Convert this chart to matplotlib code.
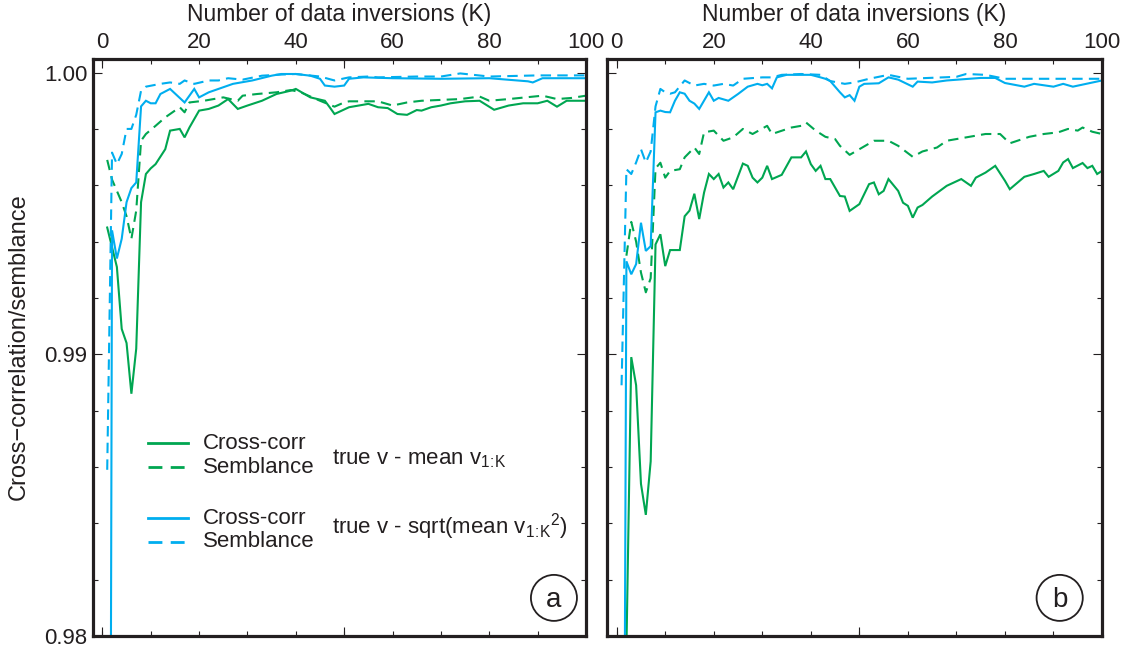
import matplotlib
matplotlib.use("Agg")
import matplotlib.pyplot as plt
from matplotlib.ticker import FixedLocator, FixedFormatter
from matplotlib.patches import Ellipse

plt.rcParams['font.family'] = ['Liberation Sans', 'DejaVu Sans']
plt.rcParams['lines.scale_dashes'] = False
plt.rcParams['mathtext.fontset'] = 'custom'
plt.rcParams['mathtext.rm'] = 'Liberation Sans'

INK = '#231F20'
GREEN = '#00A651'
BLUE = '#00AEEF'

# ---------------- panel (a) ----------------
a_cc_mean_k = [1, 2, 3, 4, 5, 6, 7, 8, 9, 10, 11, 13, 14, 16, 17, 18, 19, 20, 22, 24,
               26, 28, 30, 33, 36, 39, 40, 43, 46, 47, 48, 51, 55, 57, 59, 61, 63, 65, 66, 68,
               70, 72, 75, 78, 81, 84, 87, 90, 92, 94, 96, 98, 100]
a_cc_mean_v = [0.9945, 0.9938, 0.9931, 0.9909, 0.9904, 0.9886, 0.9902, 0.9954, 0.9964, 0.9966,
               0.99675, 0.99728, 0.99794, 0.998, 0.9977, 0.99805, 0.99835, 0.99865, 0.99871, 0.99883,
               0.99906, 0.99871, 0.99883, 0.999, 0.99924, 0.99936, 0.99942, 0.99912, 0.999, 0.99877,
               0.99853, 0.99877, 0.99889, 0.99877, 0.99874, 0.99853, 0.9985, 0.99867, 0.99865, 0.99877,
               0.99883, 0.99891, 0.99898, 0.999, 0.99868, 0.99883, 0.99891, 0.99891, 0.999, 0.99879,
               0.999, 0.999, 0.999]

a_sem_mean_k = [1, 2, 3, 4, 5, 6, 7, 8, 9, 11, 13, 16, 17, 18, 21, 25, 28, 29, 32, 36,
                39, 41, 45, 48, 50, 51, 57, 60, 63, 66, 74, 78, 80, 84, 91, 94, 97, 100]
a_sem_mean_v = [0.9969, 0.9962, 0.9958, 0.9954, 0.9949, 0.9941, 0.9951, 0.99758, 0.99782, 0.99811,
                0.99841, 0.99877, 0.99859, 0.99894, 0.999, 0.99912, 0.999, 0.99918, 0.99924, 0.9993,
                0.99938, 0.9993, 0.999, 0.99879, 0.99894, 0.99898, 0.99898, 0.99883, 0.99894, 0.999,
                0.99906, 0.99915, 0.999, 0.99906, 0.99918, 0.99906, 0.9991, 0.99918]

a_cc_rms_k = [1, 2, 3, 4, 5, 6, 7, 8, 9, 10, 11, 12, 14, 17, 19, 20, 22, 25, 27, 31,
              35, 37, 40, 43, 45, 46, 48, 50, 51, 54, 60, 70, 80, 88, 89, 91, 100]
a_cc_rms_v = [0.93, 0.9944, 0.9934, 0.9941, 0.9954, 0.9959, 0.9961, 0.9988, 0.9990, 0.99891,
              0.99891, 0.99924, 0.99942, 0.99894, 0.99942, 0.99912, 0.9993, 0.99948, 0.9996, 0.99972,
              0.99989, 0.99995, 0.99995, 0.99989, 0.99978, 0.99954, 0.9995, 0.99954, 0.99978, 0.99983,
              0.9998, 0.99978, 0.9998, 0.99969, 0.99965, 0.9998, 0.9998]

a_sem_rms_k = [1, 2, 3, 4, 5, 6, 7, 8, 9, 12, 14, 16, 17, 19, 22, 24, 26, 29, 33, 37,
               40, 45, 48, 51, 55, 57, 65, 70, 74, 80, 90, 100]
a_sem_rms_v = [0.9859, 0.99716, 0.99675, 0.99711, 0.998, 0.998, 0.9985, 0.99936, 0.9995, 0.9996,
               0.99965, 0.9996, 0.99972, 0.9996, 0.99972, 0.99972, 0.9998, 0.99975, 0.99989, 0.99993,
               0.99995, 0.99986, 0.99972, 0.99983, 0.99986, 0.99983, 0.99986, 0.99986, 0.99997, 0.99986,
               0.9999, 0.9999]

# ---------------- panel (b) ----------------
b_cc_mean_k = [1, 2, 3, 4, 5, 6, 7, 8, 9, 10, 11, 13, 14, 15, 16, 17, 18, 19, 20, 21,
               22, 23, 24, 26, 27, 28, 29, 30, 31, 32, 34, 36, 38, 39, 40, 41, 42, 43, 44, 45,
               46, 47, 48, 50, 52, 53, 54, 55, 56, 58, 59, 60, 61, 62, 63, 65, 68, 71, 73, 74,
               76, 78, 80, 81, 84, 86, 88, 89, 91, 92, 93, 94, 96, 97, 98, 99, 100]
b_cc_mean_v = [0.97, 0.9795, 0.9899, 0.9889, 0.9854, 0.9843, 0.9862, 0.9939, 0.99426, 0.99313,
               0.9937, 0.9937, 0.9949, 0.9951, 0.9957, 0.9948, 0.99574, 0.9964, 0.99622, 0.9964,
               0.99592, 0.9961, 0.99586, 0.99677, 0.99669, 0.99627, 0.9961, 0.99627, 0.99669, 0.99622,
               0.99637, 0.99699, 0.99699, 0.9972, 0.99675, 0.99651, 0.99669, 0.99622, 0.99622, 0.99592,
               0.99562, 0.9956, 0.99509, 0.99533, 0.99604, 0.9961, 0.99568, 0.9958, 0.99622, 0.9958,
               0.99538, 0.99527, 0.99485, 0.99521, 0.9953, 0.9956, 0.99598, 0.99622, 0.99598, 0.99627,
               0.99645, 0.99669, 0.99616, 0.99586, 0.9963, 0.9964, 0.99651, 0.9963, 0.99651, 0.99681,
               0.99693, 0.99661, 0.99679, 0.99661, 0.99669, 0.9964, 0.99651]

b_sem_mean_k = [2, 3, 4, 5, 6, 7, 8, 9, 10, 11, 13, 14, 16, 17, 18, 20, 22, 24, 26, 28,
                31, 32, 36, 38, 39, 41, 43, 45, 46, 48, 50, 53, 56, 58, 61, 63, 66, 68, 72, 74,
                76, 79, 81, 85, 88, 91, 93, 95, 96, 98, 100]
b_sem_mean_v = [0.9935, 0.9947, 0.9940, 0.9929, 0.9922, 0.9927, 0.9966, 0.9968, 0.99627, 0.99651,
                0.99657, 0.99699, 0.99734, 0.99711, 0.99788, 0.99794, 0.99758, 0.9977, 0.998, 0.99782,
                0.99811, 0.99782, 0.99805, 0.99811, 0.99823, 0.99794, 0.99772, 0.99764, 0.9974, 0.99708,
                0.99728, 0.99758, 0.99758, 0.9974, 0.99701, 0.9972, 0.99734, 0.99758, 0.9977, 0.99776,
                0.99782, 0.99782, 0.99749, 0.99772, 0.99782, 0.99788, 0.998, 0.99794, 0.99805, 0.9979,
                0.99782]

b_cc_rms_k = [1, 2, 3, 4, 5, 6, 7, 8, 9, 10, 11, 12, 13, 14, 15, 16, 17, 19, 20, 21,
              23, 25, 27, 29, 30, 31, 32, 33, 35, 40, 42, 43, 44, 46, 47, 48, 49, 50, 51, 54,
              56, 58, 61, 62, 65, 68, 75, 78, 80, 84, 86, 90, 92, 94, 100]
b_cc_rms_v = [0.95, 0.9933, 0.99284, 0.9932, 0.99467, 0.99367, 0.99384, 0.99859, 0.99865, 0.9986,
              0.99859, 0.999, 0.9993, 0.99925, 0.999, 0.9989, 0.99871, 0.9993, 0.999, 0.9991,
              0.999, 0.99924, 0.9995, 0.9996, 0.99955, 0.9996, 0.99944, 0.99983, 0.99992, 0.99992,
              0.99983, 0.99978, 0.9997, 0.9993, 0.99912, 0.9992, 0.999, 0.9995, 0.9996, 0.99962,
              0.99983, 0.99975, 0.9995, 0.99968, 0.99965, 0.99972, 0.99981, 0.99981, 0.99963, 0.9995,
              0.9996, 0.9995, 0.9996, 0.9995, 0.99972]

b_sem_rms_k = [1, 2, 3, 4, 5, 6, 7, 8, 9, 10, 11, 12, 14, 16, 18, 20, 22, 24, 26, 30,
               32, 34, 38, 42, 44, 47, 49, 52, 56, 60, 70, 72, 76, 80, 90, 100]
b_sem_rms_v = [0.9889, 0.99657, 0.9964, 0.99681, 0.99728, 0.99681, 0.9972, 0.9988, 0.99942, 0.9993,
               0.99925, 0.9993, 0.99972, 0.99954, 0.9996, 0.99954, 0.9996, 0.99954, 0.99978, 0.99983,
               0.99983, 0.99992, 0.99995, 0.99992, 0.9997, 0.9996, 0.99965, 0.99978, 0.99992, 0.99978,
               0.99985, 0.99995, 0.99992, 0.99978, 0.99978, 0.99978]

x_ticks = list(range(0, 101, 10))
x_tick_labels = [str(t) if t % 20 == 0 else '' for t in x_ticks]
x_long_ticks = [0, 50, 100]
y_major = [0.98, 0.99, 1.00]
y_major_labels = ['0.98', '0.99', '1.00']
y_minor = [0.98 + 0.002 * i for i in range(11)]

xlabel = 'Number of data inversions (K)'
ylabel = 'Cross\u2212correlation/semblance'

DASH = (7.5, 4.5)
LW = 1.5

fig = plt.figure(figsize=(11.32, 6.51), dpi=100)
W, H = 1132.0, 651.0
ax_a = fig.add_axes([92.7 / W, 1 - 636 / H, (586 - 92.7) / W, (636 - 58.5) / H])
ax_b = fig.add_axes([607 / W, 1 - 636 / H, (1102 - 607) / W, (636 - 58.5) / H])


def draw_series(ax, cc_mean, sem_mean, cc_rms, sem_rms):
    ax.plot(*cc_mean, color=GREEN, lw=LW, solid_joinstyle='miter')
    ax.plot(*sem_mean, color=GREEN, lw=LW, dashes=DASH)
    ax.plot(*cc_rms, color=BLUE, lw=LW, solid_joinstyle='miter')
    ax.plot(*sem_rms, color=BLUE, lw=LW, dashes=DASH)


def style_axes(ax, show_ylabels):
    ax.set_xlim(-2, 100)
    ax.set_ylim(0.98, 1.0005)
    for s in ax.spines.values():
        s.set_linewidth(2.3)
        s.set_color(INK)
        s.set_zorder(5)
    ax.xaxis.set_major_locator(FixedLocator(x_ticks))
    ax.xaxis.set_major_formatter(FixedFormatter(x_tick_labels))
    ax.xaxis.set_minor_locator(FixedLocator(x_long_ticks))
    ax.xaxis.remove_overlapping_locs = False
    ax.tick_params(axis='x', which='major', direction='in', length=3.5, width=0.8,
                   color=INK, top=True, bottom=True, labeltop=True, labelbottom=False,
                   labelsize=16, labelcolor=INK, pad=4)
    ax.tick_params(axis='x', which='minor', direction='in', length=6.5, width=0.8,
                   color=INK, top=True, bottom=True, labeltop=False, labelbottom=False)
    ax.yaxis.set_major_locator(FixedLocator(y_major))
    ax.yaxis.set_major_formatter(FixedFormatter(y_major_labels if show_ylabels else ['', '', '']))
    ax.yaxis.set_minor_locator(FixedLocator(y_minor))
    ax.tick_params(axis='y', which='major', direction='in', length=6.5, width=0.8,
                   color=INK, left=True, right=True, labelleft=show_ylabels,
                   labelsize=16, labelcolor=INK, pad=4)
    ax.tick_params(axis='y', which='minor', direction='in', length=3.5, width=0.8,
                   color=INK, left=True, right=True)
    ax.xaxis.set_label_position('top')
    ax.set_xlabel(xlabel, fontsize=16.5, color=INK, labelpad=8)


def panel_tag(ax, letter, cx, cy):
    w = 46.0 / 493.0
    h = 46.0 / 577.5
    ax.add_patch(Ellipse((cx, cy), w, h, transform=ax.transAxes, fill=False,
                         ec=INK, lw=1.3, zorder=6))
    ax.text(cx, cy - 0.003, letter, transform=ax.transAxes, ha='center', va='center',
            fontsize=20, color=INK, zorder=7)


draw_series(ax_a, (a_cc_mean_k, a_cc_mean_v), (a_sem_mean_k, a_sem_mean_v),
            (a_cc_rms_k, a_cc_rms_v), (a_sem_rms_k, a_sem_rms_v))
draw_series(ax_b, (b_cc_mean_k, b_cc_mean_v), (b_sem_mean_k, b_sem_mean_v),
            (b_cc_rms_k, b_cc_rms_v), (b_sem_rms_k, b_sem_rms_v))
style_axes(ax_a, True)
style_axes(ax_b, False)

panel_tag(ax_a, 'a', 0.935, 0.066)
panel_tag(ax_b, 'b', 0.9145, 0.066)

fig.text(19 / W, 1 - 347 / H, ylabel, rotation=90, ha='center', va='center',
         fontsize=17, color=INK)

# key for the four curve types
key_x0, key_x1, key_tx = 0.112, 0.193, 0.2236
key_rows = [
    (0.334, GREEN, None, 'Cross-corr'),
    (0.2926, GREEN, DASH, 'Semblance'),
    (0.2043, BLUE, None, 'Cross-corr'),
    (0.163, BLUE, DASH, 'Semblance'),
]
for y, col, dash, label in key_rows:
    kw = dict(color=col, lw=2.0, transform=ax_a.transAxes)
    if dash is not None:
        kw['dashes'] = (10, 6)
    ax_a.plot([key_x0, key_x1], [y, y], **kw)
    ax_a.text(key_tx, y, label, transform=ax_a.transAxes, ha='left', va='center',
              fontsize=16, color=INK)

sub = r'\mathrm{1\!:\!K}'
ax_a.text(0.485, 0.3065, r'true v - mean v$_{%s}$' % sub, transform=ax_a.transAxes,
          ha='left', va='center', fontsize=16, color=INK)
ax_a.text(0.485, 0.1887, r'true v - sqrt(mean v$_{%s}{}^{\mathrm{2}}$)' % sub,
          transform=ax_a.transAxes, ha='left', va='center', fontsize=16, color=INK)

fig.savefig('out.png', dpi=100)
